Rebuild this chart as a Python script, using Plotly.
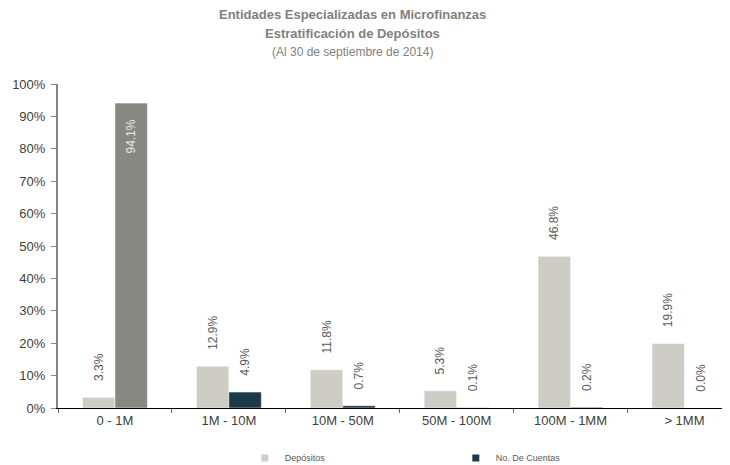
import plotly.graph_objects as go

categorias = ["0 - 1M", "1M - 10M", "10M - 50M", "50M - 100M", "100M - 1MM", "> 1MM"]
depositos = [0.033, 0.129, 0.118, 0.053, 0.468, 0.199]
cuentas = [0.941, 0.049, 0.007, 0.001, 0.002, 0.000]

gris_claro = "#cdcdc5"
gris_oscuro = "#888883"
azul = "#1c3947"
texto = "#595959"

pad = "\u00a0" * 4  # separa la etiqueta de la barra

fig = go.Figure()

fig.add_trace(go.Bar(
    x=categorias, y=depositos, name="Depósitos",
    marker=dict(color=gris_claro), showlegend=False,
    text=[pad + f"{v*100:.1f}%" for v in depositos],
    textposition="outside", textangle=-90,
    textfont=dict(size=12, color=texto),
    constraintext="none", cliponaxis=False,
))

fig.add_trace(go.Bar(
    x=categorias, y=cuentas, name="No. De Cuentas",
    marker=dict(color=[gris_oscuro] + [azul] * 5), showlegend=False,
    text=[f"{cuentas[0]*100:.1f}%" + pad] + [pad + f"{v*100:.1f}%" for v in cuentas[1:]],
    textposition=["inside"] + ["outside"] * 5, textangle=-90,
    insidetextanchor="end",
    textfont=dict(size=12, color=["#e8e8e8"] + [texto] * 5),
    constraintext="none", cliponaxis=False,
))

# entradas de leyenda (cuadros pequeños)
for nombre, color in [("Depósitos", gris_claro), ("No. De Cuentas", azul)]:
    fig.add_trace(go.Scatter(
        x=[None], y=[None], mode="markers", name=nombre,
        marker=dict(symbol="square", size=7, color=color),
    ))

titulos = [
    ("<b>Entidades Especializadas en Microfinanzas</b>", 13, 1.213),
    ("<b>Estratificación de Depósitos</b>", 13, 1.157),
    ("(Al 30 de septiembre de 2014)", 12, 1.099),
]
for txt, size, ypos in titulos:
    fig.add_annotation(
        text=txt, xref="paper", yref="paper", x=0.4375, y=ypos,
        xanchor="center", yanchor="middle", showarrow=False,
        font=dict(size=size, color="#808080"),
    )

# la página deja 8px de margen alrededor del gráfico
fig.update_layout(
    width=722, height=457,
    template="plotly_white",
    plot_bgcolor="white", paper_bgcolor="white",
    font=dict(family="Liberation Sans, Arial", color=texto),
    barmode="group", bargap=0.43, bargroupgap=0,
    margin=dict(t=76, b=57, l=50, r=0, autoexpand=False),
    showlegend=True,
    legend=dict(
        orientation="h", xref="container", x=0.328, xanchor="left",
        yref="paper", y=-0.154, yanchor="middle",
        font=dict(size=9, color=texto),
        entrywidth=166, entrywidthmode="pixels", itemwidth=30,
    ),
)

fig.update_xaxes(
    range=[-0.5, 5.4], showgrid=False, automargin=False,
    showline=True, linecolor="black", linewidth=1,
    ticks="outside", tickson="boundaries", ticklen=4, tickcolor="#666666",
    tickfont=dict(size=13, color="#404040"),
)
fig.update_yaxes(
    range=[0, 1], dtick=0.1, tickformat=".0%", showgrid=False, zeroline=False,
    automargin=False, ticklabelstandoff=3,
    showline=True, linecolor="#868686", linewidth=2,
    ticks="outside", ticklen=5, tickcolor="#868686",
    tickfont=dict(size=13, color="#404040"),
)

fig.write_html("out.html")
